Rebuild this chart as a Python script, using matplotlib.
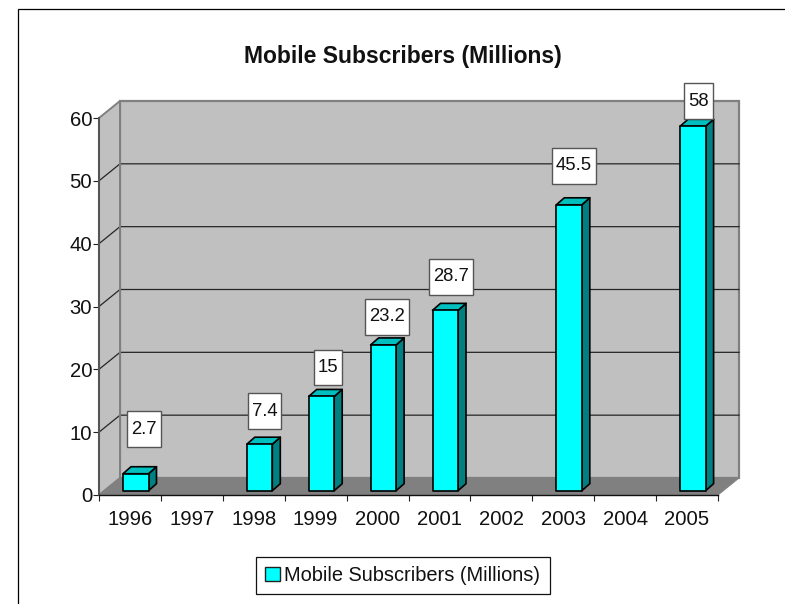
import matplotlib
matplotlib.use('Agg')
import matplotlib.pyplot as plt
from matplotlib.patches import Polygon, Patch
from matplotlib.lines import Line2D

# subscriber counts per year, in millions (None = no figure published)
years = ['1996', '1997', '1998', '1999', '2000', '2001', '2002', '2003', '2004', '2005']
subscribers = [2.7, None, 7.4, 15, 23.2, 28.7, None, 45.5, None, 58]
value_labels = ['2.7', None, '7.4', '15', '23.2', '28.7', None, '45.5', None, '58']
y_ticks = [0, 10, 20, 30, 40, 50, 60]
series_name = 'Mobile Subscribers (Millions)'
chart_title = 'Mobile Subscribers (Millions)'

# hand placed data labels, offset from the top of each bar in pixels
label_shift = [(8, 44.5), None, (5, 33), (6.5, 29), (3.5, 28), (5.5, 33.5), None, (5, 39), None, (5.5, 25)]

W, H = 785, 604
plt.rcParams['font.family'] = ['Liberation Sans', 'DejaVu Sans']
fig = plt.figure(figsize=(W / 100, H / 100), dpi=100)

# front plane of the 3d box
x0, x1, y0, y1 = 99, 718, 495, 118
ax = fig.add_axes([x0 / W, 1 - y0 / H, (x1 - x0) / W, (y0 - y1) / H])
ax.set_xlim(0, len(years))
ax.set_ylim(0, 60)
ax.patch.set_visible(False)

px_x = len(years) / (x1 - x0)
px_y = 60 / (y0 - y1)

# depth of the box and of the bars, in data units
wall_dx, wall_dy = 21 * px_x, 17 * px_y
bar_dx, bar_dy = 8 * px_x, 7 * px_y
bar_left, bar_w = 24 * px_x, 25.5 * px_x
bar_base = 4.3 * px_y

n = len(years)
gray = '#808080'

# walls and floor
ax.add_patch(Polygon([(wall_dx, wall_dy), (n + wall_dx, wall_dy), (n + wall_dx, 60 + wall_dy), (wall_dx, 60 + wall_dy)],
                     fc='#c0c0c0', ec=gray, lw=1.6, clip_on=False, zorder=1))
ax.add_patch(Polygon([(0, 0), (wall_dx, wall_dy), (wall_dx, 60 + wall_dy), (0, 60)],
                     fc='#c0c0c0', ec=gray, lw=1.4, clip_on=False, zorder=1))
ax.add_patch(Polygon([(0, 0), (n, 0), (n + wall_dx, wall_dy), (wall_dx, wall_dy)],
                     fc=gray, ec=gray, lw=0.7, clip_on=False, zorder=2))

# gridlines run along the back wall and down the side wall
for t in y_ticks[1:-1]:
    ax.plot([0, wall_dx, n + wall_dx], [t, t + wall_dy, t + wall_dy], color='#262626', lw=0.9,
            clip_on=False, zorder=2, solid_joinstyle='miter')
ax.plot([wall_dx, wall_dx], [wall_dy, 60 + wall_dy], color=gray, lw=1.4, clip_on=False, zorder=2)

# bars
for i, v in enumerate(subscribers):
    if v is None:
        continue
    l = i + bar_left
    r = l + bar_w
    b = bar_base
    t = b + v
    ax.add_patch(Polygon([(r, b), (r + bar_dx, b + bar_dy), (r + bar_dx, t + bar_dy), (r, t)],
                         fc='#008080', ec='#000000', lw=1.2, clip_on=False, zorder=3, joinstyle='round'))
    ax.add_patch(Polygon([(l, t), (r, t), (r + bar_dx, t + bar_dy), (l + bar_dx, t + bar_dy)],
                         fc='#00bfbf', ec='#000000', lw=1.2, clip_on=False, zorder=3, joinstyle='round'))
    ax.add_patch(Polygon([(l, b), (r, b), (r, t), (l, t)],
                         fc='#00ffff', ec='#000000', lw=1.2, clip_on=False, zorder=4, joinstyle='round'))

# data labels in white boxes
for i, v in enumerate(subscribers):
    if v is None:
        continue
    ax.annotate(value_labels[i], xy=(i + bar_left + bar_w / 2, bar_base + v),
                xytext=label_shift[i], textcoords='offset pixels',
                ha='center', va='center', fontsize=13.3, color='#111111', zorder=6,
                bbox=dict(boxstyle='square,pad=0.22', mutation_aspect=2.3,
                          fc='white', ec='#555555', lw=1.0))

# axes
for side in ['top', 'right']:
    ax.spines[side].set_visible(False)
ax.spines['left'].set_color('#555555')
ax.spines['left'].set_linewidth(1.5)
ax.spines['bottom'].set_color('#111111')
ax.spines['bottom'].set_linewidth(1.0)
ax.spines['left'].set_zorder(5)
ax.spines['bottom'].set_zorder(5)

ax.set_yticks(y_ticks)
ax.set_xticks(range(n + 1))
ax.set_xticklabels([])
ax.set_xticks([i + 0.5 for i in range(n)], minor=True)
ax.set_xticklabels(years, minor=True)
ax.tick_params(axis='x', which='major', length=4.3, width=0.8, color='#222222')
ax.tick_params(axis='x', which='minor', length=0, pad=11, labelsize=14.6, labelcolor='#111111')
ax.tick_params(axis='y', length=4, width=0.8, pad=1, labelsize=14.6, color='#222222', labelcolor='#111111')

fig.text(403 / W, 1 - 57 / H, chart_title, ha='center', va='center', fontsize=16.5,
         fontweight='bold', color='#111111')

# legend
handle = Patch(fc='#00ffff', ec='#222222', lw=1.0, label=series_name)
leg = fig.legend(handles=[handle], loc='center', bbox_to_anchor=(402.5 / W, 1 - 575.5 / H), fontsize=14.4,
                 fancybox=False, framealpha=1, edgecolor='#111111', borderpad=0.45,
                 handlelength=0.75, handleheight=0.75, handletextpad=0.25, labelcolor='#111111')
leg.get_frame().set_linewidth(0.9)

# outer chart border, cut off on the right and at the bottom
fig.add_artist(Line2D([18 / W, 18 / W, 1], [0, 1 - 8.5 / H, 1 - 8.5 / H], color='black', lw=0.9,
                      solid_joinstyle='miter'))

fig.savefig('out.png', dpi=100)
